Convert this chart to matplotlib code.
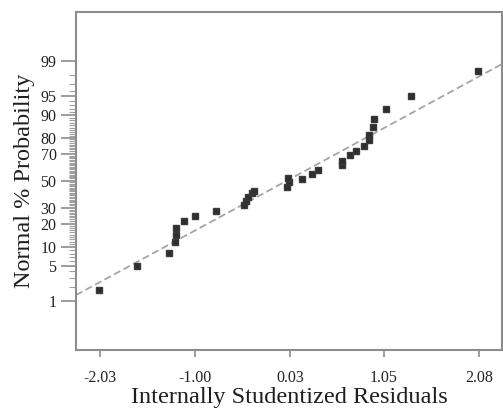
import numpy as np
import matplotlib
matplotlib.use('Agg')
import matplotlib.pyplot as plt
from statistics import NormalDist

# Residuals and their normal % probability
residuals = [-2.04, -1.63, -1.28, -1.22, -1.21, -1.21, -1.12, -1.00, -0.77,
             -0.47, -0.45, -0.42, -0.38, -0.36, 0.00, 0.02, 0.01, 0.16, 0.27,
             0.34, 0.60, 0.60, 0.68, 0.75, 0.83, 0.89, 0.89, 0.93, 0.94, 1.07,
             1.34, 2.07]
probability = [1.71, 5.02, 8.28, 11.96, 14.99, 18.38, 21.8, 24.96, 28.14,
               31.99, 35.17, 37.95, 40.48, 42.61, 45.67, 49.16, 52.0, 51.7, 55.3,
               58.8, 62.1, 65.0, 69.2, 72.1, 75.1, 78.5, 81.4, 85.2, 88.4, 91.8,
               95.1, 98.4]

# reference line z = slope * x + intercept
line_slope = 0.97
line_intercept = 0.01

x_ticks = [-2.03, -1.00, 0.03, 1.05, 2.08]
y_ticks = [1, 5, 10, 20, 30, 50, 70, 80, 90, 95, 99]
y_minor = [p for p in range(2, 99) if p not in y_ticks]

nd = NormalDist()
to_z = np.vectorize(lambda p: nd.inv_cdf(min(max(p / 100.0, 1e-9), 1 - 1e-9)), otypes=[float])
to_p = np.vectorize(lambda z: nd.cdf(z) * 100.0, otypes=[float])

plt.rcParams['font.family'] = ['Liberation Serif', 'DejaVu Serif']

fig = plt.figure(figsize=(5.03, 4.12), dpi=100)
ax = fig.add_axes([0.151, 0.150, 0.847, 0.821])
ax.set_yscale('function', functions=(to_z, to_p))

xmin, xmax = -2.29, 2.33
xs = np.linspace(xmin, xmax, 60)
ax.plot(xs, to_p(line_slope * xs + line_intercept), color='#a5a5a5',
        lw=1.3, ls=(0, (4, 2)), zorder=2)
ax.plot(residuals, probability, ls='none', marker='s', ms=5.0,
        color='#2e2e2e', mec='#3a3a3a', zorder=3)

ax.set_xlim(xmin, xmax)
ax.set_ylim(to_p(-3.28), to_p(3.28))

ax.set_xticks(x_ticks)
ax.set_xticklabels(['%.2f' % v for v in x_ticks])
ax.set_yticks(y_ticks)
ax.set_yticklabels([str(v) for v in y_ticks])
ax.set_yticks(y_minor, minor=True)
ax.xaxis.set_minor_locator(matplotlib.ticker.NullLocator())

ax.tick_params(axis='both', which='major', colors='#8c8c8c', labelcolor='#222222',
               labelsize=11.5, width=1.2)
ax.tick_params(axis='x', which='major', length=5, pad=9)
ax.tick_params(axis='y', which='major', length=11, pad=3)
ax.tick_params(axis='y', which='minor', length=5, width=0.8, colors='#a0a0a0')

for s in ax.spines.values():
    s.set_color('#8c8c8c')
    s.set_linewidth(1.5)

ax.set_xlabel('Internally Studentized Residuals', fontsize=17.5, color='#1e1e1e', labelpad=1)
ax.set_ylabel('Normal % Probability', fontsize=17.5, color='#1e1e1e', labelpad=4)

fig.savefig('out.png', dpi=100)
